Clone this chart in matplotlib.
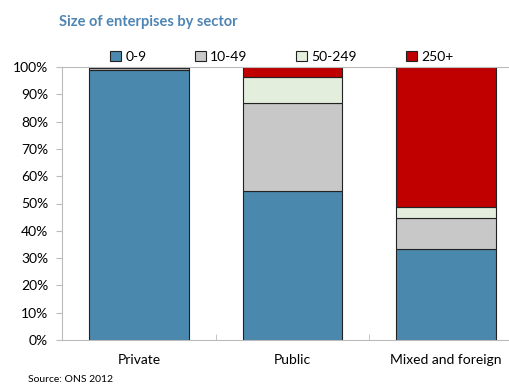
import matplotlib.pyplot as plt
import numpy as np

plt.rcParams['font.family'] = ['Lato', 'DejaVu Sans']

sectors = ["Private", "Public", "Mixed and foreign"]
size_bands = ["0-9", "10-49", "50-249", "250+"]
share_0_9 = [98.8, 54.6, 33.2]
share_10_49 = [0.7, 32.1, 11.4]
share_50_249 = [0.3, 9.6, 4.2]
share_250 = [0.2, 3.7, 51.2]
colors = ["#4a89ad", "#c8c8c8", "#e4eedc", "#c00000"]

series = [share_0_9, share_10_49, share_50_249, share_250]

fig = plt.figure(figsize=(5.1, 3.9), dpi=100)
ax = fig.add_axes([62 / 510, 50 / 390, 461 / 510, 273 / 390])

x = np.arange(len(sectors))
bottom = np.zeros(len(sectors))
for name, vals, col in zip(size_bands, series, colors):
    ax.bar(x, vals, width=0.65, bottom=bottom, color=col, edgecolor="#222222",
           linewidth=0.8, label=name)
    bottom += np.array(vals)

ax.set_xlim(-0.5, 2.5)
ax.set_ylim(0, 100)
ax.set_yticks(range(0, 101, 10))
ax.set_yticklabels([f"{v}%" for v in range(0, 101, 10)], fontsize=10)
ax.set_xticks(x)
ax.set_xticklabels(sectors, fontsize=10)
ax.tick_params(axis="x", length=0, pad=10)
ax.tick_params(axis="y", length=4, color="#bbbbbb", pad=6)
ax.set_xticks([0.5, 1.5], minor=True)
ax.tick_params(axis="x", which="minor", direction="in", length=4, color="#bbbbbb")

for side in ["left", "bottom", "top"]:
    ax.spines[side].set_color("#bbbbbb")
ax.spines["right"].set_visible(False)

ax.legend(loc="lower left", bbox_to_anchor=(0.089, 0.99), ncol=4, frameon=False,
          fontsize=10, handlelength=0.8, handleheight=0.8, handletextpad=0.3,
          columnspacing=3.5, borderaxespad=0.1)

fig.text(59 / 510, 1 - 22 / 390, "Size of enterpises by sector", fontsize=10.5,
         fontweight="bold", color="#4f85b5", va="center")
fig.text(28 / 510, 1 - 379 / 390, "Source: ONS 2012", fontsize=7.5, va="center")

fig.savefig("out.png", dpi=100)
